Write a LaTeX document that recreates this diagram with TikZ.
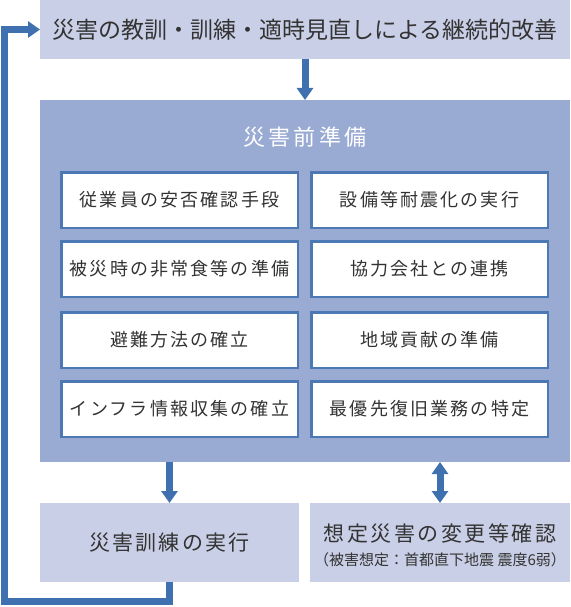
\documentclass[tikz,border=0pt]{standalone}
\usepackage{fontspec}
\setmainfont{Noto Sans CJK JP}
\usepackage{xcolor}
\usepackage{tikz}
\usetikzlibrary{
    positioning,
    arrows.meta,
    calc
}
\definecolor{paleblue}{HTML}{C9CFE6}
\definecolor{midblue}{HTML}{99AAD3}
\definecolor{flowblue}{HTML}{3F71B0}
\definecolor{edgeblue}{HTML}{4C78B4}
\definecolor{inkgray}{HTML}{333333}

\begin{document}
\begin{tikzpicture}[x=1pt, y=-1pt,
    pbox/.style={fill=paleblue, inner sep=0pt, outer sep=0pt, align=center, text=inkgray},
    ibox/.style={draw=edgeblue, line width=2.5pt, fill=white, minimum width=236.5pt,
                 minimum height=55.5pt, inner sep=0pt, outer sep=0pt, text=inkgray,
                 font=\fontsize{18}{20}\selectfont\addfontfeatures{LetterSpace=12}},
    flow/.style={line width=7pt, draw=flowblue, -{Triangle[width=16pt, length=12pt]}},
    bothflow/.style={line width=7pt, draw=flowblue,
                     {Triangle[width=16pt, length=12pt]}-{Triangle[width=16pt, length=12pt]}},
    loopline/.style={line width=7pt, draw=flowblue, miter limit=10,
                     -{Triangle[width=16pt, length=12pt]}}]

    \useasboundingbox (0,0) rectangle (570,607);

    % Continuous improvement
    \node[pbox, minimum width=530pt, minimum height=59pt,
          font=\fontsize{23}{26}\selectfont] (kaizen) at (305,29.5)
      {災害の教訓・訓練・適時見直しによる継続的改善};

    % Preparation block
    \node[fill=midblue, inner sep=0pt, outer sep=0pt, minimum width=530pt,
          minimum height=362pt] (junbi) at (305,281) {};
    \node[text=white, font=\fontsize{22}{26}\selectfont\addfontfeatures{LetterSpace=14}]
      (junbiT) at (305,137) {災害前準備};
    \draw[flow] (kaizen.south) to (junbi.north);

    % Items
    \foreach \name/\xpos/\ypos/\txt in {
        anpi/179.5/200/従業員の安否確認手段,
        taishin/429.5/200/設備等耐震化の実行,
        hijou/179.5/269/被災時の非常食等の準備,
        kyoryoku/429.5/269/協力会社との連携,
        hinan/179.5/340/避難方法の確立,
        chiiki/429.5/340/地域貢献の準備,
        infra/179.5/409/インフラ情報収集の確立,
        fukkyu/429.5/409/最優先復旧業務の特定}{
      \node[ibox] (\name) at (\xpos,\ypos) {\txt};
    }

    % Drill and scenario check
    \node[pbox, minimum width=259pt, minimum height=79pt,
          font=\fontsize{21}{26}\selectfont\addfontfeatures{LetterSpace=10}] (kunren) at (169.5,542.5)
      {災害訓練の実行};
    \node[pbox, minimum width=260pt, minimum height=79pt] (soutei) at (440,542.5) {};
    \node[text=inkgray, align=center, inner sep=0pt] (souteiT) at ($(soutei.center)+(0,3)$)
      {{\fontsize{21}{26}\selectfont\addfontfeatures{LetterSpace=12}想定災害の変更等確認}\\[8pt]
       {\fontsize{15}{17}\selectfont （被害想定：首都直下地震 震度6弱）}};

    \draw[flow] (junbi.south -| kunren.north) to (kunren.north);
    \draw[bothflow] (junbi.south -| soutei.north) to (soutei.north);

    % Feedback loop
    \coordinate (loopC) at (4.5,601.5);
    \draw[loopline] (kunren.south) |- (loopC) |- (kaizen.west);

\end{tikzpicture}
\end{document}
